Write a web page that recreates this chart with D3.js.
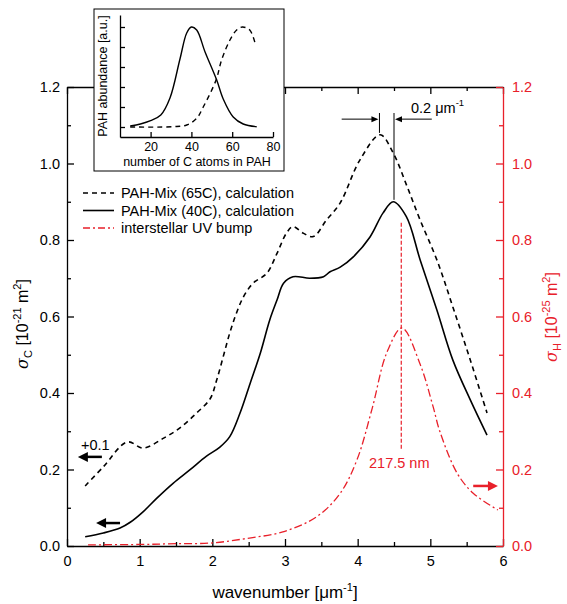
<!DOCTYPE html>
<html><head><meta charset="utf-8">
<script src="https://cdn.jsdelivr.net/npm/d3@7"></script>
<style>
body{margin:0;background:#fff}
text{font-family:"Liberation Sans",Arial,Helvetica,sans-serif}
</style>
</head><body>
<svg id="c" width="567" height="604"></svg>
<script>
// ---------- data ----------
const wn65 = [0.25,0.5,0.83,1.05,1.33,1.55,1.78,1.97,2.06,2.15,2.24,2.33,2.43,2.56,2.75,2.89,3.02,3.11,3.25,3.39,3.57,3.76,4.03,4.31,4.49,4.68,4.86,5.09,5.31,5.55,5.78];
const sig65 = [0.157,0.207,0.272,0.256,0.282,0.308,0.347,0.385,0.434,0.495,0.557,0.608,0.652,0.687,0.713,0.765,0.818,0.835,0.818,0.809,0.852,0.897,1.009,1.075,1.027,0.94,0.852,0.748,0.625,0.486,0.348];

const wn40 = [0.25,0.5,0.73,0.87,1.05,1.23,1.46,1.69,1.92,2.1,2.24,2.38,2.52,2.66,2.79,2.89,2.98,3.11,3.34,3.53,3.62,3.76,3.94,4.17,4.35,4.49,4.67,4.86,5.09,5.31,5.55,5.78];
const sig40 = [0.024,0.034,0.047,0.062,0.09,0.124,0.164,0.199,0.235,0.258,0.286,0.347,0.425,0.504,0.591,0.643,0.687,0.704,0.70,0.704,0.717,0.729,0.756,0.808,0.871,0.9,0.861,0.748,0.617,0.486,0.382,0.29];

const wnUV = [0.29,1.0,1.5,2.0,2.48,2.97,3.44,3.76,3.99,4.2,4.4,4.61,4.86,5.04,5.13,5.37,5.59,5.93];
const sigUV = [0.003,0.004,0.006,0.008,0.02,0.037,0.077,0.138,0.225,0.36,0.505,0.57,0.475,0.363,0.30,0.19,0.138,0.094];

const nC40 = [10,15,20,25,29.5,34.4,37.7,40,42.6,46.7,52.4,55.6,60.5,65.4,72];
const ab40 = [0.01,0.03,0.063,0.12,0.29,0.68,0.94,1.0,0.97,0.75,0.47,0.28,0.1,0.03,0.003];
const nC65 = [10,31,37.7,42.6,45.8,52.1,54.8,58.9,62.2,65,68.6,71.2];
const ab65 = [0,0.003,0.02,0.087,0.2,0.47,0.67,0.87,0.97,1.0,0.97,0.84];

const xTicks = [0,1,2,3,4,5,6];
const yTicks = [0,0.2,0.4,0.6,0.8,1.0,1.2];
const insetXTicks = [20,40,60,80];
const insetYTicks = [0,0.2,0.4,0.6,0.8,1.0];
const legendLabels = ["PAH-Mix (65C), calculation","PAH-Mix (40C), calculation","interstellar UV bump"];

const peak65 = 4.3, peak40 = 4.5, bumpPeak = 4.6;

// ---------- setup ----------
const RED = "#e8202a";
const svg = d3.select("#c");
const L = 67, R = 503, T = 87, B = 546;
const x = d3.scaleLinear([0,6],[L,R]);
const yL = d3.scaleLinear([0,1.2],[B,T]);
const yR = d3.scaleLinear([0,1.2],[B,T]);
const fmt1 = d3.format(".1f");

function styleAxis(g, color, fs){
  g.selectAll("path,line").attr("stroke",color).attr("stroke-width",1.3);
  g.selectAll("text").attr("fill",color).attr("font-size",fs).attr("font-family",'"Liberation Sans",Arial,sans-serif');
}
const minorX = d3.range(0.5,6,1);
const minorY = d3.range(0.1,1.2,0.2);

// bottom axis
const gb = svg.append("g").attr("transform",`translate(0,${B})`);
gb.call(d3.axisBottom(x).tickValues(xTicks).tickFormat(d3.format("d")).tickSize(-7).tickSizeOuter(0).tickPadding(10));
gb.append("g").call(d3.axisBottom(x).tickValues(minorX).tickFormat("").tickSize(-4).tickSizeOuter(0)).select(".domain").remove();
styleAxis(gb,"#000",14.5);
// top axis
const gt = svg.append("g").attr("transform",`translate(0,${T})`);
gt.call(d3.axisTop(x).tickValues(xTicks).tickFormat("").tickSize(-7).tickSizeOuter(0));
gt.append("g").call(d3.axisTop(x).tickValues(minorX).tickFormat("").tickSize(-4).tickSizeOuter(0)).select(".domain").remove();
styleAxis(gt,"#000",14.5);
// left axis
const gl = svg.append("g").attr("transform",`translate(${L},0)`);
gl.call(d3.axisLeft(yL).tickValues(yTicks).tickFormat(fmt1).tickSize(-7).tickSizeOuter(0).tickPadding(7));
gl.append("g").call(d3.axisLeft(yL).tickValues(minorY).tickFormat("").tickSize(-4).tickSizeOuter(0)).select(".domain").remove();
styleAxis(gl,"#000",14.5);
// right axis
const gr = svg.append("g").attr("transform",`translate(${R},0)`);
gr.call(d3.axisRight(yR).tickValues(yTicks).tickFormat(fmt1).tickSize(-7).tickSizeOuter(0).tickPadding(9));
gr.append("g").call(d3.axisRight(yR).tickValues(minorY).tickFormat("").tickSize(-4).tickSizeOuter(0)).select(".domain").remove();
styleAxis(gr,RED,14.5);

// axis titles
function sigmaTitle(tx,ty,sub,exp,color){
  const t = svg.append("text").attr("transform",`translate(${tx},${ty}) rotate(-90)`).attr("text-anchor","middle").attr("font-size",16).attr("fill",color);
  t.append("tspan").attr("font-style","italic").attr("font-family","'DejaVu Serif',serif").text("σ");
  t.append("tspan").attr("font-size",11).attr("dy",4).text(sub);
  t.append("tspan").attr("dy",-4).text(" [10");
  t.append("tspan").attr("font-size",11).attr("dy",-7).text(exp);
  t.append("tspan").attr("dy",7).text(" m");
  t.append("tspan").attr("font-size",11).attr("dy",-7).text("2");
  t.append("tspan").attr("dy",7).text("]");
}
sigmaTitle(28,324,"C","-21","#000");
sigmaTitle(557,317,"H","-25",RED);

const xt = svg.append("text").attr("x",285).attr("y",598).attr("text-anchor","middle").attr("font-size",17).attr("fill","#000");
xt.append("tspan").text("wavenumber [μm");
xt.append("tspan").attr("font-size",11).attr("dy",-7).text("-1");
xt.append("tspan").attr("dy",7).text("]");

// ---------- curves ----------
const lineL = d3.line().x(d=>x(d[0])).y(d=>yL(d[1])).curve(d3.curveCatmullRom.alpha(0.5));
const lineR = d3.line().x(d=>x(d[0])).y(d=>yR(d[1])).curve(d3.curveCatmullRom.alpha(0.5));
svg.append("path").attr("d",lineR(d3.zip(wnUV,sigUV))).attr("fill","none").attr("stroke",RED).attr("stroke-width",1.3).attr("stroke-dasharray","8,3,2,3");
svg.append("path").attr("d",lineL(d3.zip(wn65,sig65))).attr("fill","none").attr("stroke","#000").attr("stroke-width",1.6).attr("stroke-dasharray","5,4");
svg.append("path").attr("d",lineL(d3.zip(wn40,sig40))).attr("fill","none").attr("stroke","#000").attr("stroke-width",1.6);

// ---------- annotations ----------
function arrow(x1,y1,x2,y2,color,w,hl,hw){
  const dir = Math.sign(x2-x1);
  svg.append("line").attr("x1",x1).attr("y1",y1).attr("x2",x2-dir*hl*0.8).attr("y2",y2).attr("stroke",color).attr("stroke-width",w);
  svg.append("path").attr("d",`M${x2},${y2}L${x2-dir*hl},${y2-hw}L${x2-dir*hl},${y2+hw}Z`).attr("fill",color);
}
svg.append("line").attr("x1",x(peak65)).attr("x2",x(peak65)).attr("y1",yL(1.132)).attr("y2",yL(1.08)).attr("stroke","#000").attr("stroke-width",1);
svg.append("line").attr("x1",x(peak40)).attr("x2",x(peak40)).attr("y1",yL(1.132)).attr("y2",yL(0.905)).attr("stroke","#000").attr("stroke-width",1);
arrow(x(3.78),yL(1.116),x(peak65)-1,yL(1.116),"#000",1,7,3);
arrow(x(5.02),yL(1.116),x(peak40)+1,yL(1.116),"#000",1,7,3);
const t02 = svg.append("text").attr("x",411).attr("y",113).attr("font-size",14.5).attr("fill","#000");
t02.append("tspan").text("0.2 μm");
t02.append("tspan").attr("font-size",9.5).attr("dy",-7).text("-1");

svg.append("line").attr("x1",x(bumpPeak)).attr("x2",x(bumpPeak)).attr("y1",yR(0.845)).attr("y2",yR(0.25)).attr("stroke",RED).attr("stroke-width",1.2).attr("stroke-dasharray","4,2");
svg.append("text").attr("x",x(bumpPeak)-2).attr("y",468).attr("text-anchor","middle").attr("font-size",14.5).attr("fill",RED).text("217.5 nm");

svg.append("text").attr("x",81).attr("y",450).attr("font-size",14.5).attr("fill","#000").text("+0.1");
arrow(x(0.48),yL(0.233),x(0.15),yL(0.233),"#000",2.5,10,5);
arrow(x(0.73),yL(0.06),x(0.40),yL(0.06),"#000",2.5,10,5);
arrow(x(5.59),yR(0.157),x(5.93),yR(0.157),RED,2.5,10,5);

// ---------- legend ----------
const legStyles = [{c:"#000",d:"5,4",w:1.6},{c:"#000",d:null,w:1.6},{c:RED,d:"7,3,2,3",w:1.3}];
legendLabels.forEach((lab,i)=>{
  const yy = 193 + i*17.5;
  svg.append("line").attr("x1",83).attr("x2",114).attr("y1",yy).attr("y2",yy).attr("stroke",legStyles[i].c).attr("stroke-width",legStyles[i].w).attr("stroke-dasharray",legStyles[i].d);
  svg.append("text").attr("x",121).attr("y",yy+5).attr("font-size",14.5).attr("fill","#000").text(lab);
});

// ---------- inset ----------
svg.append("rect").attr("x",94).attr("y",9).attr("width",190).attr("height",162).attr("fill","#fff").attr("stroke","#000").attr("stroke-width",1);
const ix = d3.scaleLinear([5,80],[120,273]);
const iy = d3.scaleLinear([-0.1,1.12],[137,15]);
const gix = svg.append("g").attr("transform","translate(0,137)");
gix.call(d3.axisBottom(ix).tickValues(insetXTicks).tickFormat(d3.format("d")).tickSize(-5).tickSizeOuter(0).tickPadding(5));
styleAxis(gix,"#000",12.5);
const giy = svg.append("g").attr("transform","translate(120,0)");
giy.call(d3.axisLeft(iy).tickValues(insetYTicks).tickFormat("").tickSize(-5).tickSizeOuter(0));
styleAxis(giy,"#000",12.5);
svg.append("text").attr("x",197).attr("y",166).attr("text-anchor","middle").attr("font-size",12.5).attr("fill","#000").text("number of C atoms in PAH");
svg.append("text").attr("transform","translate(107,76) rotate(-90)").attr("text-anchor","middle").attr("font-size",12.5).attr("fill","#000").text("PAH abundance [a.u.]");
const iline = d3.line().x(d=>ix(d[0])).y(d=>iy(d[1])).curve(d3.curveCatmullRom.alpha(0.5));
svg.append("path").attr("d",iline(d3.zip(nC65,ab65))).attr("fill","none").attr("stroke","#000").attr("stroke-width",1.4).attr("stroke-dasharray","5,4");
svg.append("path").attr("d",iline(d3.zip(nC40,ab40))).attr("fill","none").attr("stroke","#000").attr("stroke-width",1.4);
</script>
</body></html>
